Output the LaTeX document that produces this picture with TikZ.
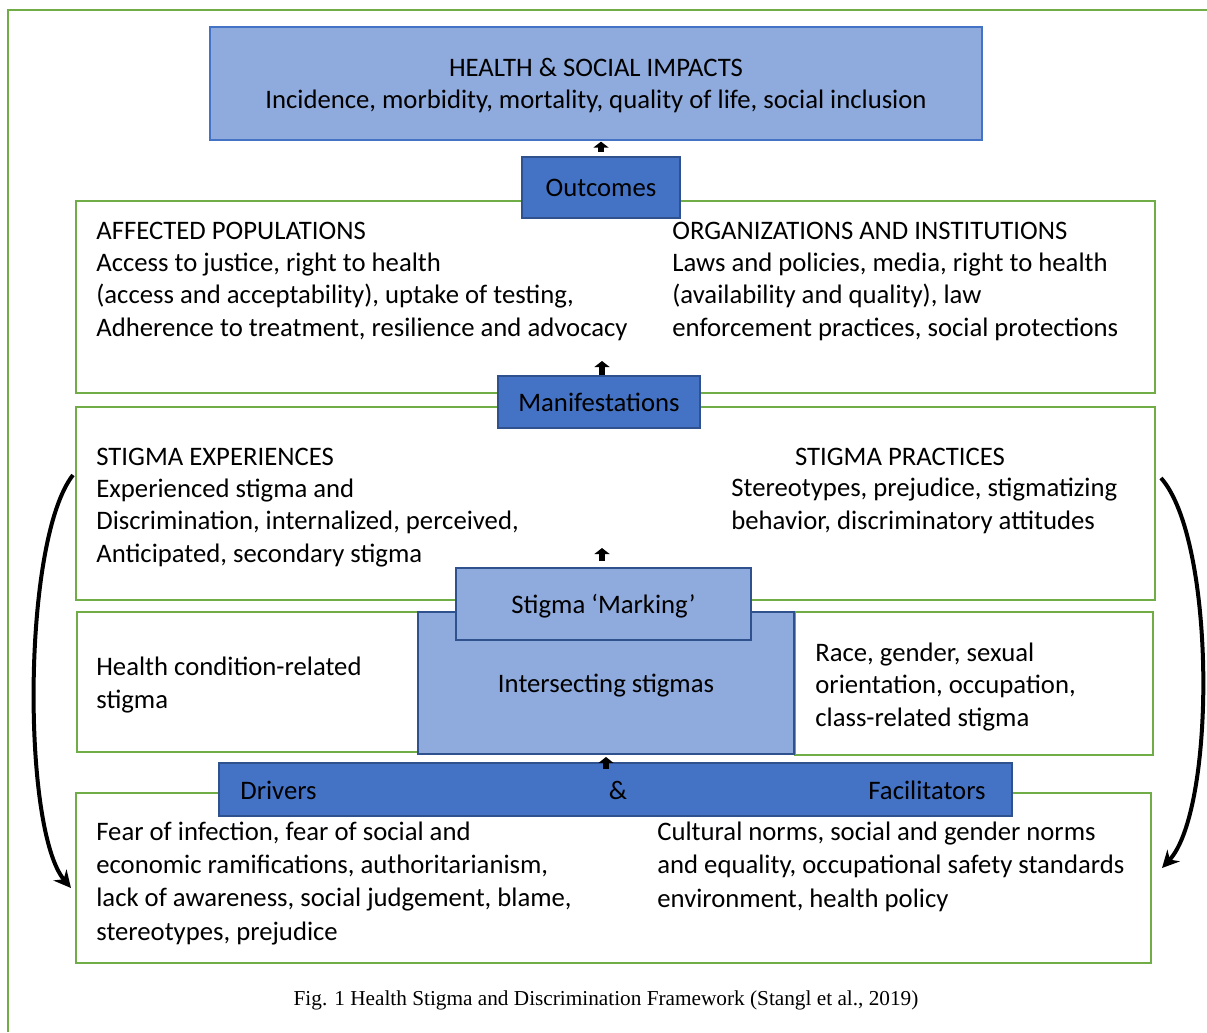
\documentclass[tikz,border=0pt]{standalone}
\usepackage{fontspec}
\setmainfont{Carlito}
\newfontfamily\capfont{Liberation Serif}
\usepackage{xcolor}
\usetikzlibrary{arrows.meta, positioning, fit}
\definecolor{frameGreen}{HTML}{70AD47}
\definecolor{lightBlue}{HTML}{8FAADC}
\definecolor{midBlue}{HTML}{4472C4}
\definecolor{darkBlue}{HTML}{2F528F}
\newcommand{\boxfont}{\fontsize{15.2}{18.4}\selectfont}

\begin{document}
\begin{tikzpicture}[
        x=0.02cm, y=-0.02cm,
        panel/.style={draw=frameGreen, line width=0.04cm, rectangle, inner sep=0pt},
        lightbox/.style={draw=darkBlue, fill=lightBlue, line width=0.04cm, rectangle, inner sep=0pt, align=center, text depth=0pt, font=\boxfont},
        darkbox/.style={draw=darkBlue, fill=midBlue, line width=0.04cm, rectangle, inner sep=0pt, align=center, font=\boxfont},
        txt/.style={anchor=base west, align=left, inner sep=0pt, font=\boxfont},
        uparrow/.style={line width=0.12cm, -{Triangle[width=0.3cm, length=0.12cm]}},
        bendarrow/.style={line width=0.08cm, -{Stealth[width=0.34cm, length=0.34cm]}}
    ]
        \useasboundingbox (0,0) rectangle (1207,1032);
        \draw[frameGreen, line width=0.05cm] (1207,10) -- (8,10) -- (8,1032);

        \node[panel, fit={(76,201) (1155,393)}] (affected) {};
        \node[panel, fit={(76,407) (1155,600)}] (experiences) {};
        \node[panel, fit={(77,612) (418,752)}] (condition) {};
        \node[panel, fit={(795,612) (1153,755)}] (identity) {};
        \node[panel, fit={(76,793) (1151,963)}] (context) {};

        \node[lightbox, draw=midBlue, line width=0.025cm, minimum width=15.44cm, minimum height=2.26cm] (impacts) at (596,83.5) {HEALTH \& SOCIAL IMPACTS\\Incidence, morbidity, mortality, quality of life, social inclusion};
        \node[darkbox, minimum width=3.16cm, minimum height=1.22cm] (outcomes) at (601,187.5) {Outcomes};
        \node[darkbox, minimum width=4.04cm, minimum height=1.04cm] (manifest) at (599,402) {Manifestations};
        \node[lightbox, minimum width=7.52cm, minimum height=2.84cm] (intersect) at (606,683) {Intersecting stigmas};
        \node[lightbox, minimum width=5.9cm, minimum height=1.44cm] (marking) at (603.5,604) {Stigma ‘Marking’};
        \node[darkbox, minimum width=15.86cm, minimum height=1.06cm] (drivers) at (615.5,789.5) {};

        \node[txt] (affectedtxt) at (96,336) {AFFECTED POPULATIONS\\Access to justice, right to health\\(access and acceptability), uptake of testing,\\Adherence to treatment, resilience and advocacy};
        \node[txt] (orgtxt) at (672,336) {ORGANIZATIONS AND INSTITUTIONS\\Laws and policies, media, right to health\\(availability and quality), law\\enforcement practices, social protections};
        \node[txt] (exptxt) at (96,562) {STIGMA EXPERIENCES\\Experienced stigma and\\Discrimination, internalized, perceived,\\Anticipated, secondary stigma};
        \node[txt, anchor=base] (practitle) at (900,465) {STIGMA PRACTICES};
        \node[txt] (practxt) at (731,529) {Stereotypes, prejudice, stigmatizing\\behavior, discriminatory attitudes};
        \node[txt] (conditiontxt) at (96,708) {Health condition-related\\stigma};
        \node[txt] (identitytxt) at (815,726) {Race, gender, sexual\\orientation, occupation,\\class-related stigma};
        \node[txt] (driverslbl) at (240,799) {Drivers};
        \node[txt, anchor=base] (amplbl) at (618,799) {\&};
        \node[txt, anchor=base east] (facilbl) at (986,799) {Facilitators};
        \node[txt, font=\fontsize{15.2}{18.8}\selectfont] (fearstxt) at (96,940) {Fear of infection, fear of social and\\economic ramifications, authoritarianism,\\lack of awareness, social judgement, blame,\\stereotypes, prejudice};
        \node[txt, font=\fontsize{15.2}{18.8}\selectfont] (normstxt) at (657,907) {Cultural norms, social and gender norms\\and equality, occupational safety standards\\environment, health policy};

        \node[anchor=base, inner sep=0pt, font=\capfont\fontsize{12.1}{14.5}\selectfont] (caption) at (606,1005) {Fig. 1 Health Stigma and Discrimination Framework (Stangl et al., 2019)};

        \draw[uparrow] ([yshift=0.08cm]outcomes.north) -- ([yshift=-0.02cm]outcomes.north |- impacts.south);
        \draw[uparrow] ([xshift=0.06cm]manifest.north) -- ++(0,-14);
        \draw[uparrow] ([xshift=-0.03cm, yshift=0.12cm]marking.north) -- ++(0,-13);
        \draw[uparrow] ([yshift=-0.28cm]intersect.south) -- ([yshift=-0.04cm]intersect.south);

        \coordinate (leftfrom) at (73,475);
        \coordinate (leftto) at (71,888);
        \coordinate (rightfrom) at (1161,478);
        \coordinate (rightto) at (1162,868);
        \draw[bendarrow] (leftfrom) .. controls (22,540) and (22,830) .. (leftto);
        \draw[bendarrow] (rightfrom) .. controls (1216,540) and (1216,810) .. (rightto);
    \end{tikzpicture}
\end{document}
